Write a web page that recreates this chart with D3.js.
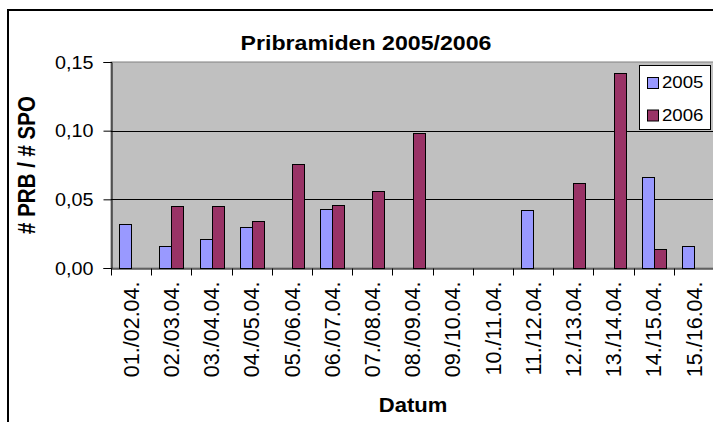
<!DOCTYPE html>
<meta charset="utf-8">
<style>
  body { margin: 0; background: #fff; }
  svg { display: block; font-family: 'Liberation Sans', Arial, sans-serif; }
</style>
<body>
<div id="chart"></div>
<script src="https://d3js.org/d3.v7.min.js"></script>
<script>
// data
var categories = ["01./02.04.", "02./03.04.", "03./04.04.", "04./05.04.", "05./06.04.",
                  "06./07.04.", "07./08.04.", "08./09.04.", "09./10.04.", "10./11.04.",
                  "11./12.04.", "12./13.04.", "13./14.04.", "14./15.04.", "15./16.04."];
var seriesNames = ["2005", "2006"];
var values2005 = [0.032, 0.016, 0.021, 0.030, 0, 0.043, 0, 0, 0, 0, 0.042, 0, 0, 0.066, 0.016];
var values2006 = [0, 0.045, 0.045, 0.034, 0.076, 0.046, 0.056, 0.098, 0, 0, 0, 0.062, 0.142, 0.014, 0];
var yTicks = [0, 0.05, 0.10, 0.15];
var colors = ["#9999ff", "#993366"];

var width = 713, height = 422;
var sx = 1.13; // the original picture is stretched a little sideways

var svg = d3.select("#chart").append("svg")
    .attr("width", width)
    .attr("height", height);

// outer chart frame (runs off the right and bottom edge)
svg.append("path")
    .attr("d", "M8," + (height + 5) + "V10H" + (width + 5))
    .attr("fill", "none")
    .attr("stroke", "#000")
    .attr("stroke-width", 2);

var plot = {left: 111, right: 714, top: 62, bottom: 268};

var x = d3.scaleBand()
    .domain(categories)
    .range([plot.left, plot.right]);

var xs = d3.scaleBand()
    .domain(seriesNames)
    .range([0, x.bandwidth()])
    .paddingOuter(0.675);

var y = d3.scaleLinear()
    .domain([0, 0.15])
    .range([plot.bottom, plot.top]);

var fmt = d3.formatLocale({decimal: ",", thousands: ".", grouping: [3], currency: ["", "€"]}).format(".2f");

// plot area
svg.append("rect")
    .attr("x", plot.left)
    .attr("y", plot.top)
    .attr("width", plot.right - plot.left)
    .attr("height", plot.bottom - plot.top)
    .attr("fill", "#c0c0c0")
    .attr("stroke", "#808080");

// gridlines
svg.append("g")
  .selectAll("line")
    .data(yTicks.filter(function(d) { return d > 0 && d < 0.15; }))
  .enter().append("line")
    .attr("x1", plot.left)
    .attr("x2", plot.right)
    .attr("y1", function(d) { return Math.round(y(d)) + 0.5; })
    .attr("y2", function(d) { return Math.round(y(d)) + 0.5; })
    .attr("stroke", "#000");

// bars
var series = [values2005, values2006];
seriesNames.forEach(function(name, si) {
  svg.append("g")
    .selectAll("rect")
      .data(series[si].map(function(v, i) { return {cat: categories[i], v: v}; })
                      .filter(function(d) { return d.v > 0; }))
    .enter().append("rect")
      .attr("x", function(d) { return Math.round(x(d.cat) + xs(name)) + 0.5; })
      .attr("y", function(d) { return Math.round(y(d.v)) + 0.5; })
      .attr("width", Math.round(xs.bandwidth()))
      .attr("height", function(d) { return Math.round(y(0)) - Math.round(y(d.v)); })
      .attr("fill", colors[si])
      .attr("stroke", "#000");
});

// y axis
var yAxis = svg.append("g")
    .attr("transform", "translate(" + (plot.left + 0.5) + ",0)")
    .call(d3.axisLeft(y).tickValues(yTicks).tickSize(8).tickPadding(0).tickFormat(fmt));
yAxis.select(".domain").attr("stroke", "#000");
yAxis.selectAll("text").remove();
yAxis.selectAll(".tick").append("text")
    .attr("transform", "translate(-18,0) scale(" + sx + ",1)")
    .attr("text-anchor", "end")
    .attr("dy", "0.35em")
    .attr("fill", "#000")
    .style("font-size", "17.5px")
    .text(fmt);

// x axis
var xAxis = svg.append("g")
    .attr("transform", "translate(0," + (plot.bottom + 0.5) + ")")
    .call(d3.axisBottom(x).tickSize(0).tickFormat(""));
xAxis.select(".domain").attr("stroke", "#000");
xAxis.selectAll(".tick").append("text")
    .attr("transform", "translate(0,13) rotate(-90)")
    .attr("text-anchor", "end")
    .attr("dy", "0.36em")
    .attr("fill", "#000")
    .style("font-size", "21.5px")
    .text(function(d) { return d; });
// tick marks between categories
xAxis.append("g")
  .selectAll("line")
    .data(categories.slice(1))
  .enter().append("line")
    .attr("x1", function(d) { return Math.round(x(d)) + 0.5; })
    .attr("x2", function(d) { return Math.round(x(d)) + 0.5; })
    .attr("y1", 0)
    .attr("y2", 7)
    .attr("stroke", "#000");
xAxis.append("line")
    .attr("x1", plot.left + 0.5).attr("x2", plot.left + 0.5)
    .attr("y1", 0).attr("y2", 7)
    .attr("stroke", "#000");

// titles
svg.append("text")
    .attr("transform", "translate(366,50) scale(" + sx + ",1)")
    .attr("text-anchor", "middle")
    .style("font-size", "20.5px")
    .style("font-weight", "bold")
    .text("Pribramiden 2005/2006");

svg.append("text")
    .attr("transform", "translate(27,165) rotate(-90) scale(1," + sx + ")")
    .attr("text-anchor", "middle")
    .attr("dy", "0.35em")
    .style("font-size", "20.5px")
    .style("font-weight", "bold")
    .text("# PRB / # SPO");

svg.append("text")
    .attr("transform", "translate(413,412) scale(" + sx + ",1)")
    .attr("text-anchor", "middle")
    .style("font-size", "19.5px")
    .style("font-weight", "bold")
    .text("Datum");

// legend
var legend = svg.append("g").attr("transform", "translate(639,65)");
legend.append("rect")
    .attr("x", 0.5).attr("y", 0.5)
    .attr("width", 71).attr("height", 64)
    .attr("fill", "#fff")
    .attr("stroke", "#000");
var item = legend.selectAll(".item")
    .data(seriesNames)
  .enter().append("g")
    .attr("transform", function(d, i) { return "translate(0," + (i * 32.5) + ")"; });
item.append("rect")
    .attr("x", 8.5).attr("y", 12.5)
    .attr("width", 11).attr("height", 11)
    .attr("fill", function(d, i) { return colors[i]; })
    .attr("stroke", "#000");
item.append("text")
    .attr("transform", "translate(23,23) scale(" + sx + ",1)")
    .style("font-size", "16.5px")
    .text(function(d) { return d; });
</script>
</body>
